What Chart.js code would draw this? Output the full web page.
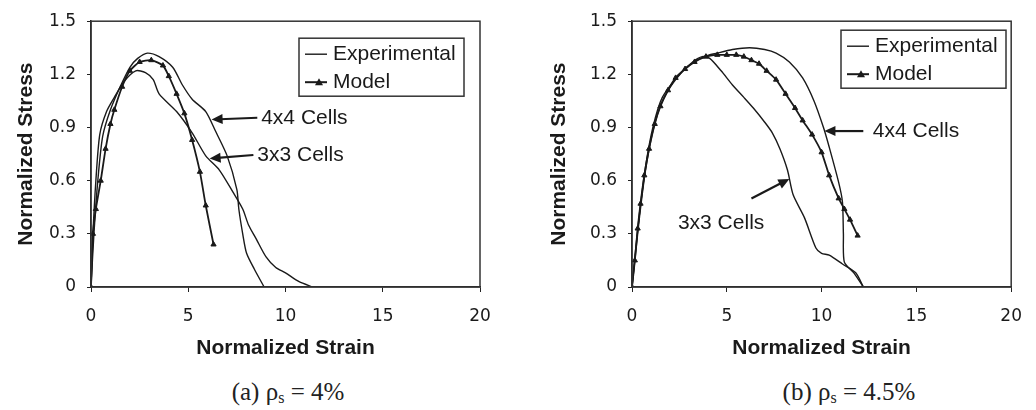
<!DOCTYPE html>
<html>
<head>
<meta charset="utf-8">
<script src="https://cdn.jsdelivr.net/npm/chart.js@4"></script>
<style>
  body { margin: 0; background: #fff; }
  #wrap { position: relative; width: 1036px; height: 410px; overflow: hidden; }
  .box { position: absolute; top: 0; width: 518px; height: 365px; }
  .cap { position: absolute; top: 392px; transform: translate(-50%, -50%); font-family: "Liberation Serif", serif; font-size: 25px; color: #222; white-space: nowrap; }
  .cap sub { font-size: 16px; vertical-align: -3px; }
</style>
</head>
<body>
<div id="wrap">
  <div class="box" style="left:0"><canvas id="chartA" width="518" height="365"></canvas></div>
  <div class="box" style="left:518px"><canvas id="chartB" width="518" height="365"></canvas></div>
  <div class="cap" style="left:288px">(a) ρ<sub>s</sub> = 4%</div>
  <div class="cap" style="left:849px">(b) ρ<sub>s</sub> = 4.5%</div>
</div>
<script>
// axis ticks
var xTickValues = [0, 5, 10, 15, 20];
var yTickValues = [0, 0.3, 0.6, 0.9, 1.2, 1.5];

// (a) rho_s = 4%  -- [strain, stress]
var a_exp4x4 = [[0,0],[0.15,0.3],[0.35,0.6],[0.6,0.85],[1.0,1.0],[1.5,1.13],[2.0,1.24],[2.4,1.29],[2.9,1.32],[3.5,1.3],[4.2,1.24],[4.7,1.14],[5.2,1.06],[5.9,0.99],[6.4,0.88],[7.0,0.74],[7.5,0.55],[7.6,0.44],[7.8,0.3],[8.0,0.19],[8.4,0.1],[8.9,0]];
var a_exp3x3 = [[0,0],[0.1,0.3],[0.25,0.6],[0.45,0.86],[0.8,0.99],[1.2,1.07],[1.7,1.16],[2.3,1.22],[2.8,1.21],[3.2,1.17],[3.5,1.09],[4.4,0.99],[5.2,0.87],[5.9,0.74],[6.6,0.66],[7.3,0.535],[7.8,0.44],[8.1,0.35],[8.5,0.27],[9.0,0.17],[9.5,0.11],[10.0,0.08],[10.7,0.03],[11.4,0]];
var a_model = [[0,0],[0.1,0.3],[0.25,0.44],[0.5,0.6],[0.75,0.78],[1.0,0.92],[1.2,1.0],[1.6,1.13],[2.0,1.22],[2.5,1.27],[3.1,1.28],[3.7,1.25],[4.0,1.19],[4.4,1.09],[4.8,0.98],[5.2,0.83],[5.6,0.65],[5.9,0.46],[6.3,0.24]];

// (b) rho_s = 4.5%
var b_exp4x4 = [[0,0],[0.2,0.2],[0.4,0.4],[0.7,0.65],[1.1,0.88],[1.6,1.05],[2.3,1.17],[3.0,1.25],[3.8,1.3],[4.5,1.32],[5.3,1.34],[6.2,1.35],[7.0,1.34],[7.6,1.32],[8.3,1.27],[9.0,1.18],[9.6,1.05],[10.1,0.9],[10.4,0.79],[10.9,0.59],[11.1,0.48],[11.15,0.3],[11.2,0.14],[11.7,0.08],[12.2,0]];
var b_exp3x3 = [[0,0],[0.2,0.22],[0.4,0.42],[0.7,0.67],[1.1,0.9],[1.6,1.07],[2.5,1.2],[3.2,1.27],[3.7,1.3],[4.1,1.29],[4.7,1.22],[5.3,1.14],[5.9,1.07],[6.4,1.01],[7.0,0.93],[7.4,0.87],[7.8,0.78],[8.2,0.66],[8.5,0.52],[9.1,0.39],[9.7,0.22],[10.0,0.19],[10.4,0.18],[11.1,0.13],[11.8,0.08],[12.2,0]];
var b_model = [[0,0],[0.15,0.15],[0.3,0.33],[0.45,0.47],[0.65,0.63],[0.9,0.78],[1.2,0.92],[1.5,1.02],[1.9,1.11],[2.3,1.18],[2.8,1.23],[3.3,1.27],[3.9,1.3],[4.5,1.31],[5.0,1.31],[5.5,1.31],[5.9,1.3],[6.3,1.28],[6.7,1.26],[7.1,1.22],[7.6,1.17],[8.1,1.09],[8.6,1.01],[9.0,0.94],[9.5,0.86],[10.0,0.76],[10.4,0.63],[10.9,0.5],[11.2,0.44],[11.5,0.38],[11.9,0.29]];

// labels with arrows: [text, textX, textY, tailX, tailY, headX, headY, align]
var a_notes = [
    ['4x4 Cells', 8.75, 0.955, 8.55, 0.955, 6.2, 0.945, 'left'],
    ['3x3 Cells', 8.55, 0.745, 8.35, 0.745, 6.1, 0.725, 'left']
];
var b_notes = [
    ['4x4 Cells', 12.7, 0.88, 12.2, 0.88, 10.15, 0.88, 'left'],
    ['3x3 Cells', 4.7, 0.36, 6.3, 0.5, 8.3, 0.61, 'center']
];

var FONT = '"Liberation Sans", Arial, sans-serif';
var TICKFONT = '"DejaVu Sans", sans-serif';
var INK = '#1a1a1a';

function toXY(arr) {
    return arr.map(function(p) { return { x: p[0], y: p[1] }; });
}

var frameAndNotes = {
    id: 'frameAndNotes',
    afterDatasetsDraw: function(chart, args, opts) {
        var ctx = chart.ctx, ca = chart.chartArea;
        var xs = chart.scales.x, ys = chart.scales.y;
        ctx.save();
        // plot frame
        ctx.strokeStyle = '#333';
        ctx.lineWidth = 1.5;
        ctx.strokeRect(ca.left, ca.top, ca.right - ca.left, ca.bottom - ca.top);

        // arrows + labels
        ctx.fillStyle = INK;
        ctx.strokeStyle = INK;
        ctx.font = '21px ' + FONT;
        ctx.textBaseline = 'middle';
        opts.notes.forEach(function(n) {
            var tx = xs.getPixelForValue(n[3]), ty = ys.getPixelForValue(n[4]);
            var hx = xs.getPixelForValue(n[5]), hy = ys.getPixelForValue(n[6]);
            var ang = Math.atan2(hy - ty, hx - tx);
            ctx.lineWidth = 2.2;
            ctx.beginPath();
            ctx.moveTo(tx, ty);
            ctx.lineTo(hx - 8 * Math.cos(ang), hy - 8 * Math.sin(ang));
            ctx.stroke();
            ctx.beginPath();
            ctx.moveTo(hx, hy);
            ctx.lineTo(hx - 11 * Math.cos(ang) + 5 * Math.sin(ang), hy - 11 * Math.sin(ang) - 5 * Math.cos(ang));
            ctx.lineTo(hx - 11 * Math.cos(ang) - 5 * Math.sin(ang), hy - 11 * Math.sin(ang) + 5 * Math.cos(ang));
            ctx.closePath();
            ctx.fill();
            ctx.textAlign = n[7];
            ctx.fillText(n[0], xs.getPixelForValue(n[1]), ys.getPixelForValue(n[2]));
        });

        // legend box
        var lx = ca.left + opts.legend.dx, ly = ca.top + opts.legend.dy;
        ctx.fillStyle = '#fff';
        ctx.fillRect(lx, ly, 165, 58);
        ctx.strokeStyle = '#333';
        ctx.lineWidth = 1.5;
        ctx.strokeRect(lx, ly, 165, 58);
        ctx.fillStyle = INK;
        ctx.strokeStyle = INK;
        ctx.textAlign = 'left';
        ctx.lineWidth = 1.4;
        ctx.beginPath(); ctx.moveTo(lx + 6, ly + 16); ctx.lineTo(lx + 28, ly + 16); ctx.stroke();
        ctx.fillText('Experimental', lx + 34, ly + 16);
        ctx.lineWidth = 2;
        ctx.beginPath(); ctx.moveTo(lx + 6, ly + 44); ctx.lineTo(lx + 28, ly + 44); ctx.stroke();
        ctx.beginPath();
        ctx.moveTo(lx + 20, ly + 40); ctx.lineTo(lx + 24, ly + 47); ctx.lineTo(lx + 16, ly + 47);
        ctx.closePath(); ctx.fill();
        ctx.fillText('Model', lx + 34, ly + 44);
        ctx.restore();
    }
};

function makeChart(id, exp4, exp3, model, notes, yAxisWidth, yTitlePad, legendPos) {
    new Chart(document.getElementById(id), {
        type: 'line',
        data: {
            datasets: [
                { data: toXY(exp4), borderColor: INK, borderWidth: 1.4, pointRadius: 0, tension: 0.25 },
                { data: toXY(exp3), borderColor: INK, borderWidth: 1.4, pointRadius: 0, tension: 0.25 },
                {
                    data: toXY(model), borderColor: INK, borderWidth: 1.8, tension: 0.2,
                    pointStyle: 'triangle', pointRadius: 3, backgroundColor: INK, pointBorderColor: INK, pointBorderWidth: 1
                }
            ]
        },
        options: {
            responsive: false,
            animation: false,
            layout: { padding: { top: 15, right: id === 'chartA' ? 38 : 19, bottom: 0, left: 0 } },
            scales: {
                x: {
                    type: 'linear', min: 0, max: 20,
                    afterBuildTicks: function(s) { s.ticks = xTickValues.map(function(v) { return { value: v }; }); },
                    afterFit: function(s) { s.height = 78; },
                    border: { color: '#222', width: 1.5 },
                    grid: { drawOnChartArea: false, tickLength: 5, color: '#222' },
                    ticks: { padding: 14, color: INK, font: { family: TICKFONT, size: 17 } },
                    title: { display: true, text: 'Normalized Strain', color: INK, padding: { top: 0, bottom: 4 }, font: { family: FONT, size: 21, weight: 'bold' } }
                },
                y: {
                    min: 0, max: 1.5,
                    afterBuildTicks: function(s) { s.ticks = yTickValues.map(function(v) { return { value: v }; }); },
                    afterFit: function(s) { s.width = yAxisWidth; },
                    border: { color: '#222', width: 1.5 },
                    grid: { drawOnChartArea: false, tickLength: 4, color: '#222' },
                    ticks: { padding: 11, color: INK, font: { family: TICKFONT, size: 17 } },
                    title: { display: true, text: 'Normalized Stress', color: INK, padding: { top: yTitlePad, bottom: 0 }, font: { family: FONT, size: 21, weight: 'bold' } }
                }
            },
            plugins: {
                legend: { display: false },
                tooltip: { enabled: false },
                frameAndNotes: { notes: notes, legend: legendPos }
            }
        },
        plugins: [frameAndNotes]
    });
}

makeChart('chartA', a_exp4x4, a_exp3x3, a_model, a_notes, 91, 14, { dx: 208, dy: 17 });
makeChart('chartB', b_exp4x4, b_exp3x3, b_model, b_notes, 114, 29, { dx: 209, dy: 9 });
</script>
</body>
</html>
